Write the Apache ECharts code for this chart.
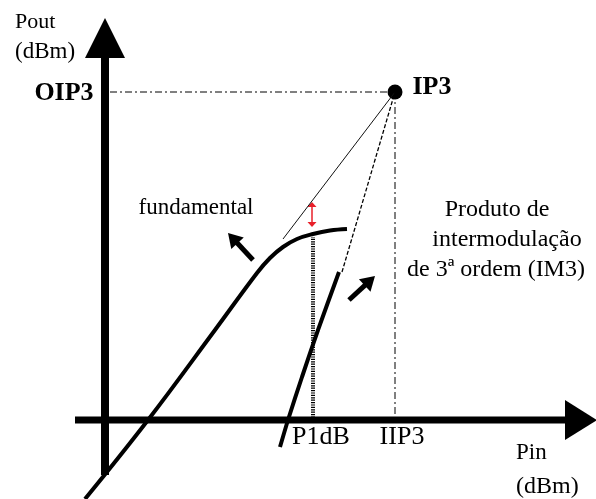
<!DOCTYPE html>
<html>
<head>
<meta charset="utf-8">
<script src="https://cdn.jsdelivr.net/npm/echarts@6/dist/echarts.min.js"></script>
<style>html,body{margin:0;padding:0;background:#fff}#c{width:596px;height:499px}</style>
</head>
<body>
<div id="c"></div>
<script>
// Values in diagram units (Pin, Pout in "dBm", origin at axes crossing)
const fundamentalPin  = [-2.0, 4.3, 11.0, 15.2, 16.5, 17.8, 19.2, 20.8, 22.5, 24.2];
const fundamentalPout = [-7.9, 0.0, 9.0, 14.7, 16.2, 17.3, 18.1, 18.6, 18.95, 19.1];
const im3Pin  = [17.5, 18.3, 19.7, 21.3, 23.4];
const im3Pout = [-2.7, 0.0, 4.3, 9.0, 14.8];
const ip3 = [29.0, 32.8];                 // [IIP3, OIP3]
const fundExtrapStart = [17.8, 18.1];
const im3ExtrapStart = [23.7, 14.8];
const p1dB = [20.8, 18.3];                // [Pin, Pout at compression]
const compressionGap = [20.7, 19.3, 21.8]; // [Pin, low, high]
const axisX = [-3.0, 49.2];
const axisY = [-5.5, 40.2];
const fundArrow = [14.8, 16.0, 12.3, 18.7];
const im3Arrow = [24.4, 12.0, 27.0, 14.4];
const tickLabels = ['OIP3', 'IIP3', 'P1dB'];
const axisTitles = ['Pout', '(dBm)', 'Pin', '(dBm)'];
const curveLabels = ['IP3', 'fundamental', 'Produto de', 'intermodulação', 'de 3ª ordem (IM3)'];

const zip = (a, b) => a.map((v, i) => [v, b[i]]);

function arrowRenderer(headLen, headW, lineW, color, both) {
  return function (params, api) {
    const a = api.coord([api.value(0), api.value(1)]);
    const b = api.coord([api.value(2), api.value(3)]);
    const dx = b[0] - a[0], dy = b[1] - a[1];
    const len = Math.hypot(dx, dy);
    const ux = dx / len, uy = dy / len, nx = -uy, ny = ux;
    const head = (tip, dx1, dy1) => {
      const bx = tip[0] - dx1 * headLen, by = tip[1] - dy1 * headLen;
      return [[tip[0], tip[1]], [bx + nx * headW / 2, by + ny * headW / 2], [bx - nx * headW / 2, by - ny * headW / 2]];
    };
    const s = both ? [a[0] + ux * headLen * 0.8, a[1] + uy * headLen * 0.8] : a;
    const e = [b[0] - ux * headLen * 0.8, b[1] - uy * headLen * 0.8];
    const children = [
      { type: 'line', shape: { x1: s[0], y1: s[1], x2: e[0], y2: e[1] }, style: { stroke: color, lineWidth: lineW } },
      { type: 'polygon', shape: { points: head(b, ux, uy) }, style: { fill: color } }
    ];
    if (both) children.push({ type: 'polygon', shape: { points: head(a, -ux, -uy) }, style: { fill: color } });
    return { type: 'group', children };
  };
}

const chart = echarts.init(document.getElementById('c'));
const serif = '"Liberation Serif", "Times New Roman", serif';
const dashDot = [7, 3, 2, 3];

chart.setOption({
  animation: false,
  backgroundColor: '#fff',
  grid: { left: 0, right: 0, top: 0, bottom: 0 },
  xAxis: { type: 'value', min: -10.5, max: 49.1, show: false },
  yAxis: { type: 'value', min: -7.9, max: 42.0, show: false },
  series: [
    { // OIP3 reference
      type: 'line', symbol: 'none', silent: true,
      data: [[0.5, ip3[1]], ip3],
      lineStyle: { color: '#000', width: 1, type: dashDot }
    },
    { // IIP3 reference
      type: 'line', symbol: 'none', silent: true,
      data: [ip3, [ip3[0], 0]],
      lineStyle: { color: '#000', width: 1, type: dashDot }
    },
    { // fundamental extrapolation
      type: 'line', symbol: 'none', silent: true,
      data: [fundExtrapStart, ip3],
      lineStyle: { color: '#111', width: 1 }
    },
    { // IM3 extrapolation
      type: 'line', symbol: 'none', silent: true,
      data: [im3ExtrapStart, ip3],
      lineStyle: { color: '#000', width: 1.3, type: [4, 2] }
    },
    { // P1dB marker
      type: 'line', symbol: 'none', silent: true,
      data: [[p1dB[0], 0], p1dB],
      lineStyle: { color: '#000', width: 4, type: [1.2, 1.2] }
    },
    { // axes
      type: 'custom', silent: true,
      renderItem: arrowRenderer(40, 40, 8, '#000', false),
      data: [[0, axisY[0], 0, axisY[1]]],
      encode: { x: [0, 2], y: [1, 3] }
    },
    {
      type: 'custom', silent: true,
      renderItem: arrowRenderer(32, 40, 7, '#000', false),
      data: [[axisX[0], 0, axisX[1], 0]],
      encode: { x: [0, 2], y: [1, 3] }
    },
    { // fundamental
      type: 'line', symbol: 'none', smooth: 0.4, silent: true,
      data: zip(fundamentalPin, fundamentalPout),
      lineStyle: { color: '#000', width: 4 }
    },
    { // IM3
      type: 'line', symbol: 'none', smooth: 0.2, silent: true,
      data: zip(im3Pin, im3Pout),
      lineStyle: { color: '#000', width: 4 }
    },
    { // black arrows
      type: 'custom', silent: true,
      renderItem: arrowRenderer(14, 17, 5, '#000', false),
      data: [fundArrow, im3Arrow],
      encode: { x: [0, 2], y: [1, 3] }
    },
    { // red compression arrow
      type: 'custom', silent: true,
      renderItem: arrowRenderer(5, 9, 1.5, '#e8202a', true),
      data: [[compressionGap[0], compressionGap[1], compressionGap[0], compressionGap[2]]],
      encode: { x: [0, 2], y: [1, 3] }
    },
    { // IP3 point
      type: 'scatter', symbol: 'circle', symbolSize: 15, silent: true,
      data: [ip3], itemStyle: { color: '#000', opacity: 1 }
    }
  ],
  graphic: [
    { type: 'text', style: { text: axisTitles[0], x: 15, y: 22, font: '22px ' + serif, fill: '#000', textVerticalAlign: 'middle' } },
    { type: 'text', style: { text: axisTitles[1], x: 15, y: 52, font: '23px ' + serif, fill: '#000', textVerticalAlign: 'middle' } },
    { type: 'text', style: { text: tickLabels[0], x: 64, y: 93, font: 'bold 26px ' + serif, fill: '#000', textAlign: 'center', textVerticalAlign: 'middle' } },
    { type: 'text', style: { text: curveLabels[0], x: 432, y: 87, font: 'bold 26px ' + serif, fill: '#000', textAlign: 'center', textVerticalAlign: 'middle' } },
    { type: 'text', style: { text: curveLabels[1], x: 196, y: 208, font: '23px ' + serif, fill: '#000', textAlign: 'center', textVerticalAlign: 'middle' } },
    { type: 'text', style: { text: curveLabels[2], x: 497, y: 210, font: '24px ' + serif, fill: '#000', textAlign: 'center', textVerticalAlign: 'middle' } },
    { type: 'text', style: { text: curveLabels[3], x: 507, y: 240, font: '24px ' + serif, fill: '#000', textAlign: 'center', textVerticalAlign: 'middle' } },
    { type: 'text', style: { text: curveLabels[4], x: 496, y: 270, font: '24px ' + serif, fill: '#000', textAlign: 'center', textVerticalAlign: 'middle' } },
    { type: 'text', style: { text: tickLabels[2], x: 321, y: 437, font: '26px ' + serif, fill: '#000', textAlign: 'center', textVerticalAlign: 'middle' } },
    { type: 'text', style: { text: tickLabels[1], x: 402, y: 437, font: '26px ' + serif, fill: '#000', textAlign: 'center', textVerticalAlign: 'middle' } },
    { type: 'text', style: { text: axisTitles[2], x: 516, y: 453, font: '23px ' + serif, fill: '#000', textVerticalAlign: 'middle' } },
    { type: 'text', style: { text: axisTitles[3], x: 516, y: 487, font: '24px ' + serif, fill: '#000', textVerticalAlign: 'middle' } }
  ]
});
</script>
</body>
</html>
